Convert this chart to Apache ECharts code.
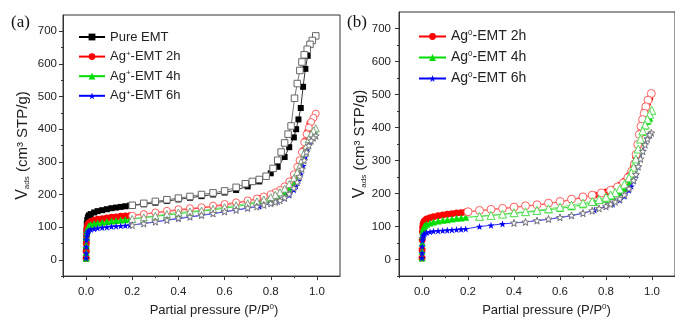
<!DOCTYPE html>
<html><head><meta charset="utf-8">
<script src="https://cdn.jsdelivr.net/npm/echarts@6/dist/echarts.min.js"></script>
<style>html,body{margin:0;padding:0;background:#fff}#c{width:675px;height:323px}</style>
</head><body><div id="c"></div>
<script>
// ---------- tick values ----------
const xTickVals = [0, 0.2, 0.4, 0.6, 0.8, 1.0];
const xMinorVals = [-0.1, 0.1, 0.3, 0.5, 0.7, 0.9];
const yTickVals = [0, 100, 200, 300, 400, 500, 600, 700];
const yMinorVals = [-50, 50, 150, 250, 350, 450, 550, 650];

// ---------- shared adsorption pressure grid (P/P0) ----------
const adsP = [0.0002,0.0005,0.001,0.002,0.003,0.005,0.008,0.012,0.02,0.035,0.05,0.07,0.09,0.11,0.13,0.15,0.17,0.19,
  0.25,0.3,0.35,0.4,0.45,0.5,0.55,0.6,0.65,0.7,0.75,0.8,
  0.83,0.86,0.88,0.9,0.91,0.92,0.93,0.94,0.95,0.96,0.97,0.98,0.99];

// ---------- panel (a) ----------
const namesA = ['Pure EMT', 'Ag+-EMT 2h', 'Ag+-EMT 4h', 'Ag+-EMT 6h'];
const aPureAds = [5,30,60,90,110,122,130,136,140,145,149,152,155,158,160,162,164,166,
  170,175,180,185,190,195,200,206,214,225,240,265,
  285,315,345,375,400,430,465,530,585,625,660];
const aPureDesP = [0.995,0.98,0.97,0.958,0.945,0.935,0.926,0.915,0.903,0.888,0.875,0.86,0.845,0.83,0.81,0.78,0.75,0.72,0.69,0.65,0.6,0.55,0.5,0.45,0.4,0.35,0.3,0.25,0.2];
const aPureDes = [686,672,660,645,628,606,580,540,495,410,385,358,330,305,280,256,246,240,233,222,211,205,200,194,189,184,179,173,167];

const aDesP = [0.995,0.985,0.975,0.965,0.955,0.945,0.935,0.925,0.915,0.9,0.88,0.86,0.84,0.82,0.8,0.77,0.74,0.7,0.65,0.6,0.55,0.5,0.45,0.4,0.35,0.3,0.25,0.2];
const a2hAds = [5,25,50,75,90,100,108,113,117,121,124,126,128,130,131,133,134,135,
  140,144,148,152,155,159,163,168,174,180,188,198,
  206,218,230,248,262,282,305,335,365,392,418];
const a2hDes = [448,435,422,405,385,360,330,305,285,262,240,225,214,207,201,194,188,182,176,171,166,161,158,155,150,145,140,135];
const a4hAds = [5,22,45,68,82,92,99,104,108,111,113,115,117,119,120,122,123,125,
  129,133,137,141,145,149,153,158,163,169,177,187,
  195,207,218,236,250,268,290,315,340,362,380,392,398];
const a4hDes = [403,396,385,370,350,328,305,285,268,250,232,218,207,199,192,185,179,173,167,161,156,151,148,145,140,135,130,125];
const a6hAds = [5,20,40,60,72,80,86,90,93,95,97,99,100,102,103,104,105,106,
  111,116,121,126,131,136,141,147,152,158,164,172,
  178,188,198,214,226,242,262,288,315,340,360,373];
const a6hDes = [380,374,365,350,330,305,278,255,238,220,202,190,182,177,173,168,163,159,153,148,142,137,132,128,122,117,111,106];

// ---------- panel (b) ----------
const namesB = ['Ag0-EMT 2h', 'Ag0-EMT 4h', 'Ag0-EMT 6h'];
const b2hAds = [5,30,60,85,98,108,114,118,123,127,130,133,135,137,139,141,142,144,
  148,152,155,158,162,165,170,175,181,188,196,205,
  213,225,237,255,268,285,310,345,385,425,455,472,488];
const b2hDesP = [0.997,0.983,0.973,0.966,0.959,0.952,0.945,0.938,0.931,0.924,0.912,0.895,0.875,0.85,0.82,0.78,0.74,0.7,0.65,0.6,0.55,0.5,0.45,0.4,0.35,0.3,0.25,0.2];
const b2hDes = [503,483,463,443,424,404,379,349,319,290,268,248,232,220,210,202,195,190,183,176,171,166,163,159,155,152,149,145];
const b4hAds = [5,25,50,72,84,93,99,103,107,111,114,117,119,121,123,125,126,128,
  131,134,137,140,143,147,151,155,160,166,173,183,
  191,203,215,233,247,265,290,320,355,385,405,418,428];
const b4hDesP = [0.999,0.99,0.98,0.97,0.96,0.95,0.94,0.93,0.92,0.91,0.9,0.88,0.86,0.84,0.82,0.8,0.77,0.74,0.7,0.65,0.6,0.55,0.5,0.45,0.4,0.35,0.3,0.25];
const b4hDes = [452,440,425,408,390,365,335,305,280,262,248,228,214,203,196,189,182,176,171,165,159,154,149,145,142,138,134,131];
const b6hAds = [5,20,40,58,66,72,76,79,82,84,86,87,88,89,90,91,92,93,
  100,104,108,111,114,118,122,127,133,140,150,160,
  168,180,192,210,222,238,255,280,305,330,350,367,380];
const b6hDesP = [0.997,0.99,0.98,0.97,0.96,0.95,0.94,0.93,0.92,0.9,0.88,0.86,0.84,0.82,0.8,0.77,0.74,0.7,0.65,0.6,0.55,0.5,0.45,0.4];
const b6hDes = [384,378,365,348,328,305,282,258,240,215,196,184,175,168,162,155,148,141,134,128,123,118,114,111];

// ---------- build ----------
const FONT = 'Liberation Sans';
const STAR = 'path://M0,-10L2.35,-3.24L9.51,-3.09L3.8,1.24L5.88,8.09L0,4L-5.88,8.09L-3.8,1.24L-9.51,-3.09L-2.35,-3.24Z';
function zip(P, V) { return V.map((v, i) => [P[i], v]); }
function ads(name, gi, V, color, symbol, size) {
  return { type: 'line', name: name, xAxisIndex: gi * 2, yAxisIndex: gi * 2, data: zip(adsP, V),
    symbol: symbol, symbolSize: size, lineStyle: { color: color, width: 0.8 },
    itemStyle: { color: color }, emphasis: { disabled: true }, z: 2 };
}
function des(name, gi, P, V, lineColor, border, symbol, size) {
  return { type: 'line', name: name + ' des', xAxisIndex: gi * 2, yAxisIndex: gi * 2, data: zip(P, V),
    symbol: symbol, symbolSize: size, lineStyle: { color: lineColor, width: 0.8 },
    itemStyle: { color: '#fff', borderColor: border, borderWidth: 1 }, emphasis: { disabled: true }, z: 3 };
}
const supRich = { sup: { fontSize: 8, lineHeight: 8, verticalAlign: 'top', fontFamily: FONT, color: '#222' } };
function fmtName(n) { return n.replace(/^Ag([+0])/, 'Ag{sup|$1}'); }

function xAxes(gi, padLeft) {
  return [
    { type: 'value', gridIndex: gi, min: -0.1, max: 1.1, position: 'bottom',
      axisLine: { show: true, onZero: false, lineStyle: { color: '#333', width: 1 } },
      splitLine: { show: false },
      axisTick: { show: true, length: 4, customValues: xTickVals, lineStyle: { color: '#333' } },
      axisLabel: { customValues: xTickVals, formatter: v => v.toFixed(1), fontSize: 11.5, fontFamily: FONT, color: '#222', margin: 10 },
      name: 'Partial pressure (P/P{sup|0})', nameLocation: 'middle', nameGap: 25,
      nameTextStyle: { fontSize: 13, fontFamily: FONT, color: '#222', padding: [0, 0, 0, padLeft], lineHeight: 15,
        rich: { sup: { fontSize: 8, lineHeight: 8, verticalAlign: 'top', fontFamily: FONT, color: '#222' } } } },
    { type: 'value', gridIndex: gi, min: -0.1, max: 1.1, position: 'bottom',
      axisLine: { show: false, onZero: false }, splitLine: { show: false }, axisLabel: { show: false },
      axisTick: { show: true, length: 2, customValues: xMinorVals, lineStyle: { color: '#333' } } }
  ];
}
function yAxes(gi, gap, margin) {
  return [
    { type: 'value', gridIndex: gi, min: -50, max: 750, position: 'left',
      axisLine: { show: true, onZero: false, lineStyle: { color: '#333', width: 1 } },
      splitLine: { show: false },
      axisTick: { show: true, length: 4, customValues: yTickVals, lineStyle: { color: '#333' } },
      axisLabel: { customValues: yTickVals, fontSize: 11.5, fontFamily: FONT, color: '#222', margin: margin },
      name: '{v|V}{sub|ads} (cm³ STP/g)', nameLocation: 'middle', nameGap: gap, nameRotate: 90,
      nameTextStyle: { fontSize: 15, fontFamily: FONT, color: '#222', lineHeight: 17,
        rich: { v: { fontSize: 16, fontFamily: FONT, color: '#222', lineHeight: 17 },
                sub: { fontSize: 8, lineHeight: 8, verticalAlign: 'bottom', fontFamily: FONT, color: '#222' } } } },
    { type: 'value', gridIndex: gi, min: -50, max: 750, position: 'left',
      axisLine: { show: false, onZero: false }, splitLine: { show: false }, axisLabel: { show: false },
      axisTick: { show: true, length: 2, customValues: yMinorVals, lineStyle: { color: '#333' } } }
  ];
}

const series = [
  ads(namesA[0], 0, aPureAds, '#000', 'rect', 6),
  des(namesA[0], 0, aPureDesP, aPureDes, '#555', '#666', 'rect', 6.5),
  ads(namesA[1], 0, a2hAds, '#ff0000', 'circle', 7),
  des(namesA[1], 0, aDesP, a2hDes, '#ff7070', '#ff6060', 'circle', 7),
  ads(namesA[2], 0, a4hAds, '#00dd00', 'triangle', 7),
  des(namesA[2], 0, aDesP, a4hDes, '#60c060', '#80a080', 'triangle', 7),
  ads(namesA[3], 0, a6hAds, '#0000ff', STAR, 7),
  des(namesA[3], 0, aDesP, a6hDes, '#7070c0', '#777', STAR, 7),

  ads(namesB[0], 1, b2hAds, '#ff0000', 'circle', 7),
  des(namesB[0], 1, b2hDesP, b2hDes, '#ff7070', '#ff6060', 'circle', 8),
  ads(namesB[1], 1, b4hAds, '#00dd00', 'triangle', 7),
  des(namesB[1], 1, b4hDesP, b4hDes, '#60d060', '#50dd50', 'triangle', 8),
  ads(namesB[2], 1, b6hAds, '#0000ff', STAR, 7),
  des(namesB[2], 1, b6hDesP, b6hDes, '#7070c0', '#777', STAR, 7)
];

const chart = echarts.init(document.getElementById('c'), null, { renderer: 'canvas' });
chart.setOption({
  animation: false,
  backgroundColor: '#fff',
  grid: [
    { left: 63, top: 15, width: 277, height: 265, show: true, borderColor: '#333', borderWidth: 1, backgroundColor: 'transparent' },
    { left: 399, top: 12, width: 283, height: 270, show: true, borderColor: '#333', borderWidth: 1, backgroundColor: 'transparent' }
  ],
  xAxis: [].concat(xAxes(0, 25), xAxes(1, 19)),
  yAxis: [].concat(yAxes(0, 32, 6), yAxes(1, 31, 8)),
  legend: [
    { data: namesA, orient: 'vertical', left: 73, top: 25, itemWidth: 26, itemHeight: 8.5, itemGap: 5.6,
      formatter: fmtName, selectedMode: false,
      textStyle: { fontSize: 13, fontFamily: FONT, color: '#222', lineHeight: 14, rich: supRich } },
    { data: namesB, orient: 'vertical', left: 413, top: 24, itemWidth: 27, itemHeight: 8.5, itemGap: 6,
      formatter: fmtName, selectedMode: false,
      textStyle: { fontSize: 14, fontFamily: FONT, color: '#222', lineHeight: 15, rich: supRich } }
  ],
  graphic: [
    { type: 'text', left: 11, top: 14, style: { text: '(a)', font: '17px "Liberation Serif"', fill: '#111' } },
    { type: 'text', left: 347, top: 14, style: { text: '(b)', font: '17px "Liberation Serif"', fill: '#111' } }
  ],
  series: series
});
</script>
</body></html>
